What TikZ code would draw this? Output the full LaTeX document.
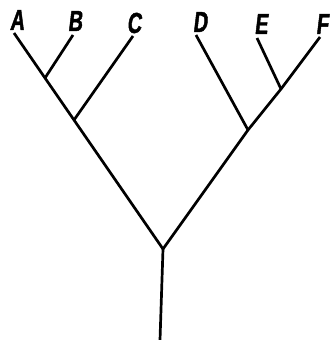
\documentclass[tikz,border=0pt]{standalone}
\usepackage{fontspec}
\newfontfamily\labfont{Liberation Sans}[UprightFont=*-Bold, FakeStretch=0.68, FakeSlant=0.12, FakeBold=1.5]
\begin{document}
\begin{tikzpicture}[x=1pt,y=-1pt,
  branch/.style={line width=2.7pt, line join=miter},
  leaf/.style={font=\labfont\fontsize{29}{29}\selectfont, inner sep=0pt}]
\useasboundingbox (0,0) rectangle (331,340);
% junctions and tips
\coordinate (base) at (160,340);
\coordinate (root) at (163,249);
\coordinate (L) at (74,120);
\coordinate (AB) at (45,78);
\coordinate (R) at (248,130);
\coordinate (EF) at (281,89);
\coordinate (tA) at (14,33);
\coordinate (tB) at (73,35);
\coordinate (tC) at (133,36);
\coordinate (tD) at (196,35);
\coordinate (tE) at (257,38);
\coordinate (tF) at (320,37);
% labels
\node[leaf] (A) at (17,20) {A};
\node[leaf] (B) at (75,21) {B};
\node[leaf] (C) at (134,23) {C};
\node[leaf] (D) at (200,22) {D};
\node[leaf] (E) at (261,24) {E};
\node[leaf] (F) at (322,24) {F};
% branches
\draw[branch] (base) -- (root);
\draw[branch] (tA) -- (AB) -- (L) -- (root) -- (R) -- (EF) -- (tF);
\draw[branch] (AB) -- (tB);
\draw[branch] (L) -- (tC);
\draw[branch] (R) -- (tD);
\draw[branch] (EF) -- (tE);
\end{tikzpicture}
\end{document}
